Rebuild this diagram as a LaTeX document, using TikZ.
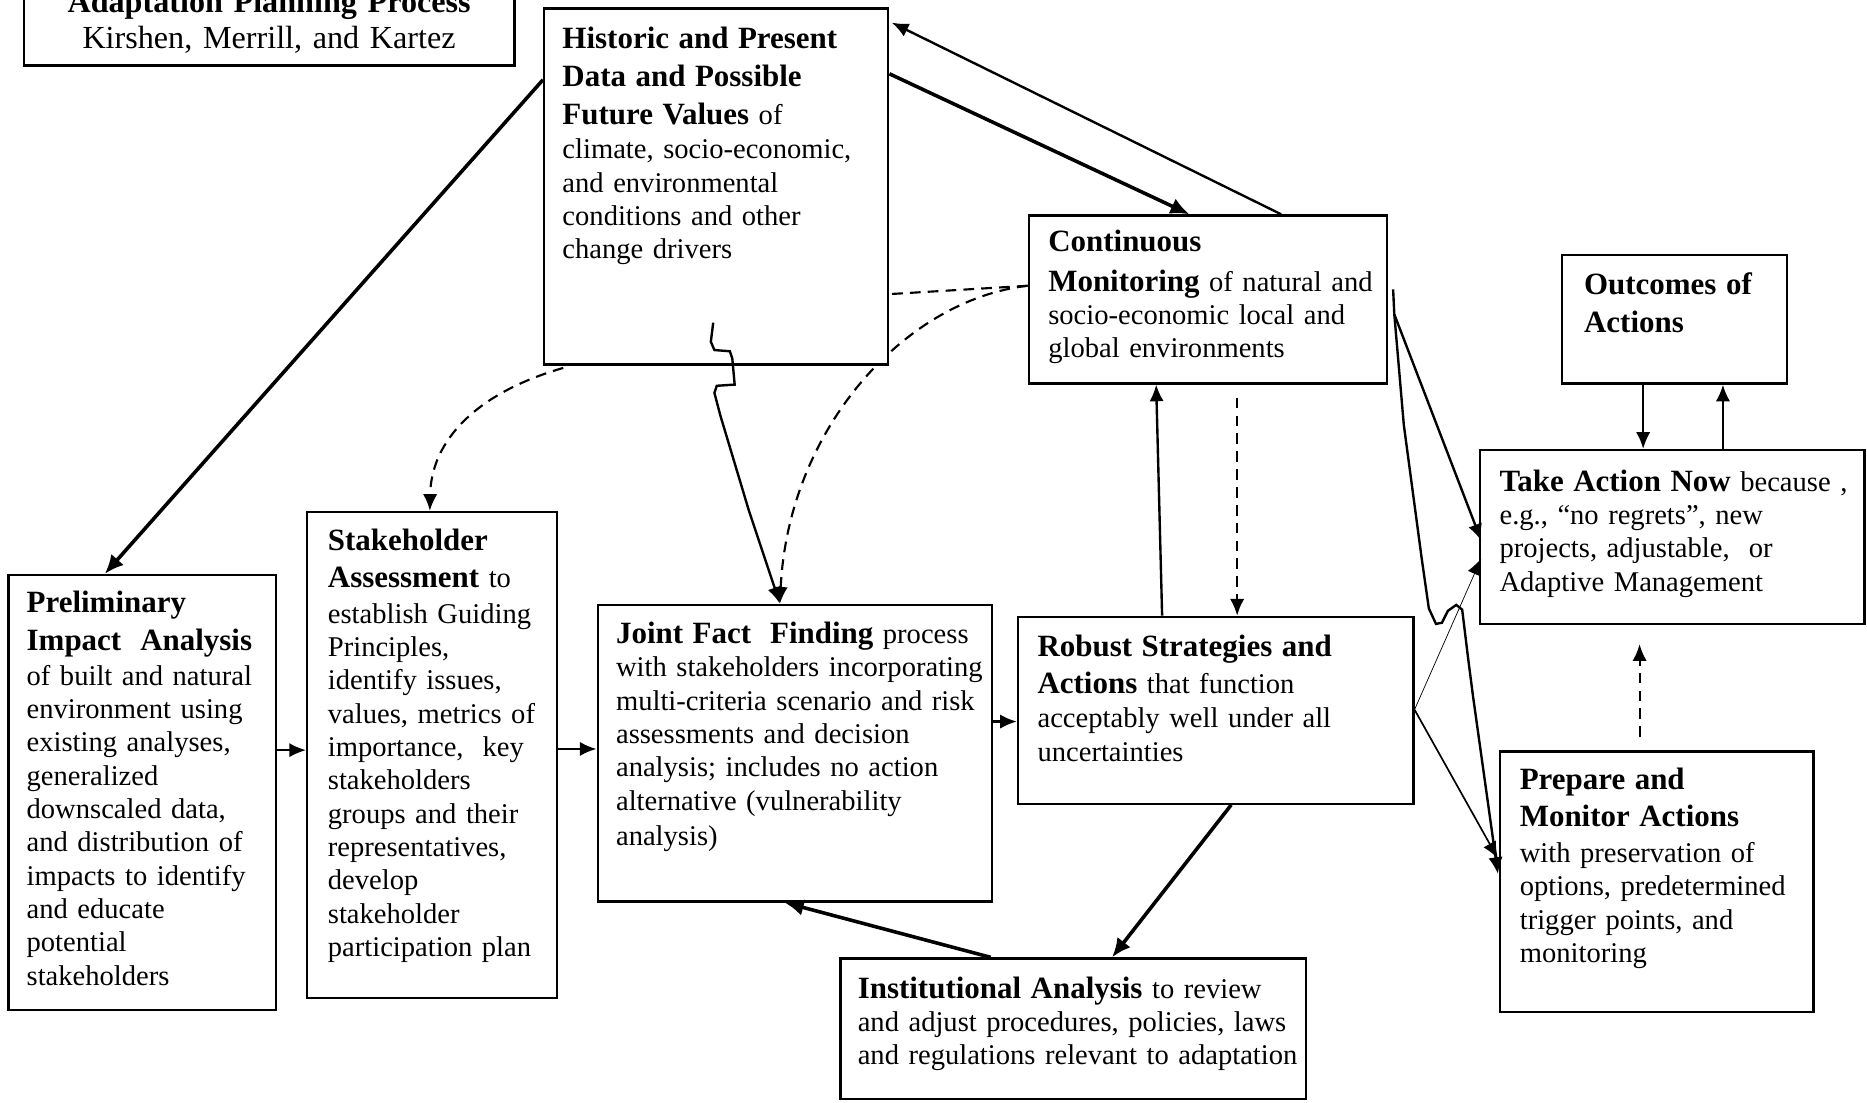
\documentclass[tikz,border=0pt]{standalone}
\usepackage{fontspec}
\setmainfont{Liberation Serif}
\usetikzlibrary{arrows.meta,fit,calc}
\pgfdeclarelayer{background}
\pgfsetlayers{background,main}
\tikzset{
  box/.style={draw, line width=1pt, fill=white, inner sep=0pt},
  txt/.style={inner sep=0pt, anchor=north west, align=left, text width=260pt, font=\fontsize{12}{14}\selectfont},
  conn/.style={line width=1pt, -{Latex[length=7pt,width=6pt]}},
  thickconn/.style={line width=1.5pt, -{Latex[length=8pt,width=7pt]}},
  thinconn/.style={line width=0.3pt, -{Latex[length=7pt,width=6pt]}},
  dashline/.style={line width=0.9pt, dash pattern=on 4.5pt off 3pt},
}
\newcommand{\hdtext}[1]{{\fontsize{13}{14}\selectfont\bfseries #1}}
\newcommand{\fstrut}{\rule{0pt}{10pt}}
\begin{document}
\begin{tikzpicture}[x=0.5pt,y=-0.5pt]
\useasboundingbox (0,0) rectangle (1568,926);
\clip (0,0) rectangle (1568,926);

% boxes
\node[box, fit={(20,-30)(432,55)}] (title) {};
\node[box, fit={(457,7)(746,306)}] (hist) {};
\node[box, fit={(864,181)(1165,322)}] (cont) {};
\node[box, fit={(1312,214)(1501,322)}] (outc) {};
\node[box, fit={(1243,378)(1566,524)}] (take) {};
\node[box, fit={(7,483)(232,848)}] (prelim) {};
\node[box, fit={(258,430)(468,838)}] (stake) {};
\node[box, fit={(502,508)(833,757)}] (joint) {};
\node[box, fit={(855,518)(1187,675)}] (robust) {};
\node[box, fit={(706,805)(1097,923)}] (inst) {};
\node[box, fit={(1260,631)(1523,850)}] (prep) {};

% texts
\node[inner sep=0pt, anchor=north, align=center, text width=200pt, font=\fontsize{13.5}{15}\selectfont] (titleT) at (226,-10)
  {\fstrut\textbf{Adaptation Planning Process}\\ Kirshen, Merrill, and Kartez};
\node[txt] (histT) at (472,20) {\fstrut\hdtext{Historic and Present}\\[2pt]
  \hdtext{Data and Possible}\\[2pt]
  \hdtext{Future Values} of\\[0.5pt]
  climate, socio-economic,\\ and environmental\\ conditions and other\\ change drivers};
\node[txt] (contT) at (880,191) {\fstrut\hdtext{Continuous}\\[2.5pt]
  \hdtext{Monitoring} of natural and\\ socio-economic local and\\ global environments};
\node[txt] (outcT) at (1330,227) {\fstrut\hdtext{Outcomes of}\\[2pt] \hdtext{Actions}};
\node[txt] (takeT) at (1259,392) {\fstrut\hdtext{Take Action Now} because ,\\
  e.g., “no regrets”, new\\ projects, adjustable,\ \ or\\ Adaptive Management};
\node[txt] (prelimT) at (22,494) {\fstrut\hdtext{Preliminary}\\[2pt]
  \hdtext{Impact\ \ Analysis}\\[0.5pt]
  of built and natural\\ environment using\\ existing analyses,\\ generalized\\ downscaled data,\\
  and distribution of\\ impacts to identify\\ and educate\\ potential\\ stakeholders};
\node[txt] (stakeT) at (275,442) {\fstrut\hdtext{Stakeholder}\\[1.5pt]
  \hdtext{Assessment} to\\[1pt]
  establish Guiding\\ Principles,\\ identify issues,\\ values, metrics of\\ importance,\ \ key\\
  stakeholders\\ groups and their\\ representatives,\\ develop\\ stakeholder\\ participation plan};
\node[txt] (jointT) at (517,520) {\fstrut\hdtext{Joint Fact\ \ Finding} process\\
  with stakeholders incorporating\\ multi-criteria scenario and risk\\ assessments and decision\\
  analysis; includes no action\\ alternative (vulnerability\\[1pt] analysis)};
\node[txt] (robustT) at (871,531) {\fstrut\hdtext{Robust Strategies and}\\[1.5pt]
  \hdtext{Actions} that function\\[0.5pt] acceptably well under all\\ uncertainties};
\node[txt] (instT) at (720,818) {\fstrut\hdtext{Institutional Analysis} to review\\
  and adjust procedures, policies, laws\\ and regulations relevant to adaptation};
\node[txt] (prepT) at (1276,643) {\fstrut\hdtext{Prepare and}\\[1.5pt]
  \hdtext{Monitor Actions}\\[1pt]
  with preservation of\\ options, predetermined\\ trigger points, and\\ monitoring};

% dashed connector passing behind the Historic box
\begin{pgfonlayer}{background}
\fill[white] (0,0) rectangle (1568,926);
\draw[dashline, -{Latex[length=7pt,width=6pt]}] ($(cont.north west)+(0,60)$)
  .. controls (760,252) and (662,360) .. ($(joint.north west)+(154,0)$);
\end{pgfonlayer}
\draw[dashline] ($(cont.north west)+(0,60)$) -- ($(hist.north east)+(0,241)$);
\draw[dashline, -{Latex[length=7pt,width=6pt]}] ($(hist.south west)+(17,2)$)
  .. controls (400,330) and (362,370) .. ($(stake.north west)+(104,0)$);
\draw[dashline, -{Latex[length=7pt,width=6pt]}] ($(cont.south west)+(176,11)$) -- ($(robust.north west)+(185,0)$);
\draw[dashline, -{Latex[length=7pt,width=6pt]}] ($(prep.north west)+(118,-11)$) -- ($(take.south west)+(135,16)$);

% solid connectors
\draw[thickconn] ($(hist.north west)+(0,61)$) -- ($(prelim.north west)+(82,0)$);
\draw[thickconn] ($(hist.north east)+(0,56)$) -- ($(cont.north west)+(136,0)$);
\draw[conn] ($(cont.north west)+(213,0)$) -- ($(hist.north east)+(2,13)$);
\draw[conn] ($(hist.south west)+(143,-36)$) -- ++(-2,16) -- ++(3,7) -- ++(13,1) -- ++(2,6)
  -- ++(2,22) -- ++(-15,1) -- ++(-2,6) -- ++(5,19) -- ++(24,80) -- ($(joint.north west)+(154,0)$);
\draw[conn] ($(prelim.north east)+(0,148)$) -- ($(stake.north west)+(0,201)$);
\draw[conn] ($(stake.north east)+(0,200)$) -- ($(joint.north west)+(0,122)$);
\draw[conn] ($(joint.north east)+(0,99)$) -- ($(robust.north west)+(0,89)$);
\draw[conn] ($(robust.north west)+(122,0)$) -- ($(cont.south west)+(108,0)$);
\draw[thickconn] ($(robust.south west)+(180,0)$) -- ($(inst.north west)+(229,0)$);
\draw[thickconn] ($(inst.north west)+(127,0)$) -- ($(joint.south west)+(158,0)$);
\draw[conn] ($(outc.south west)+(69,0)$) -- ($(take.north west)+(138,0)$);
\draw[conn] ($(take.north west)+(205,0)$) -- ($(outc.south west)+(136,0)$);
\draw[conn] ($(cont.north east)+(4,63)$) -- ++(1,21) -- ($(take.north west)+(2,77)$);
\draw[conn] ($(cont.north east)+(5,84)$) -- ++(8,93) -- ++(15,112) -- ++(6,42) -- ++(6,13)
  -- ++(5,-1) -- ++(5,-10) -- ++(7,-5) -- ++(5,4) -- ++(5,41) -- ++(4,31)
  -- ($(prep.north west)+(-1,104)$);
\draw[thinconn] ($(robust.north east)+(0,79)$) -- ($(take.north west)+(2,92)$);
\draw[conn, line width=0.7pt] ($(robust.north east)+(0,79)$) -- ($(prep.north west)+(-1,91)$);
\end{tikzpicture}
\end{document}
